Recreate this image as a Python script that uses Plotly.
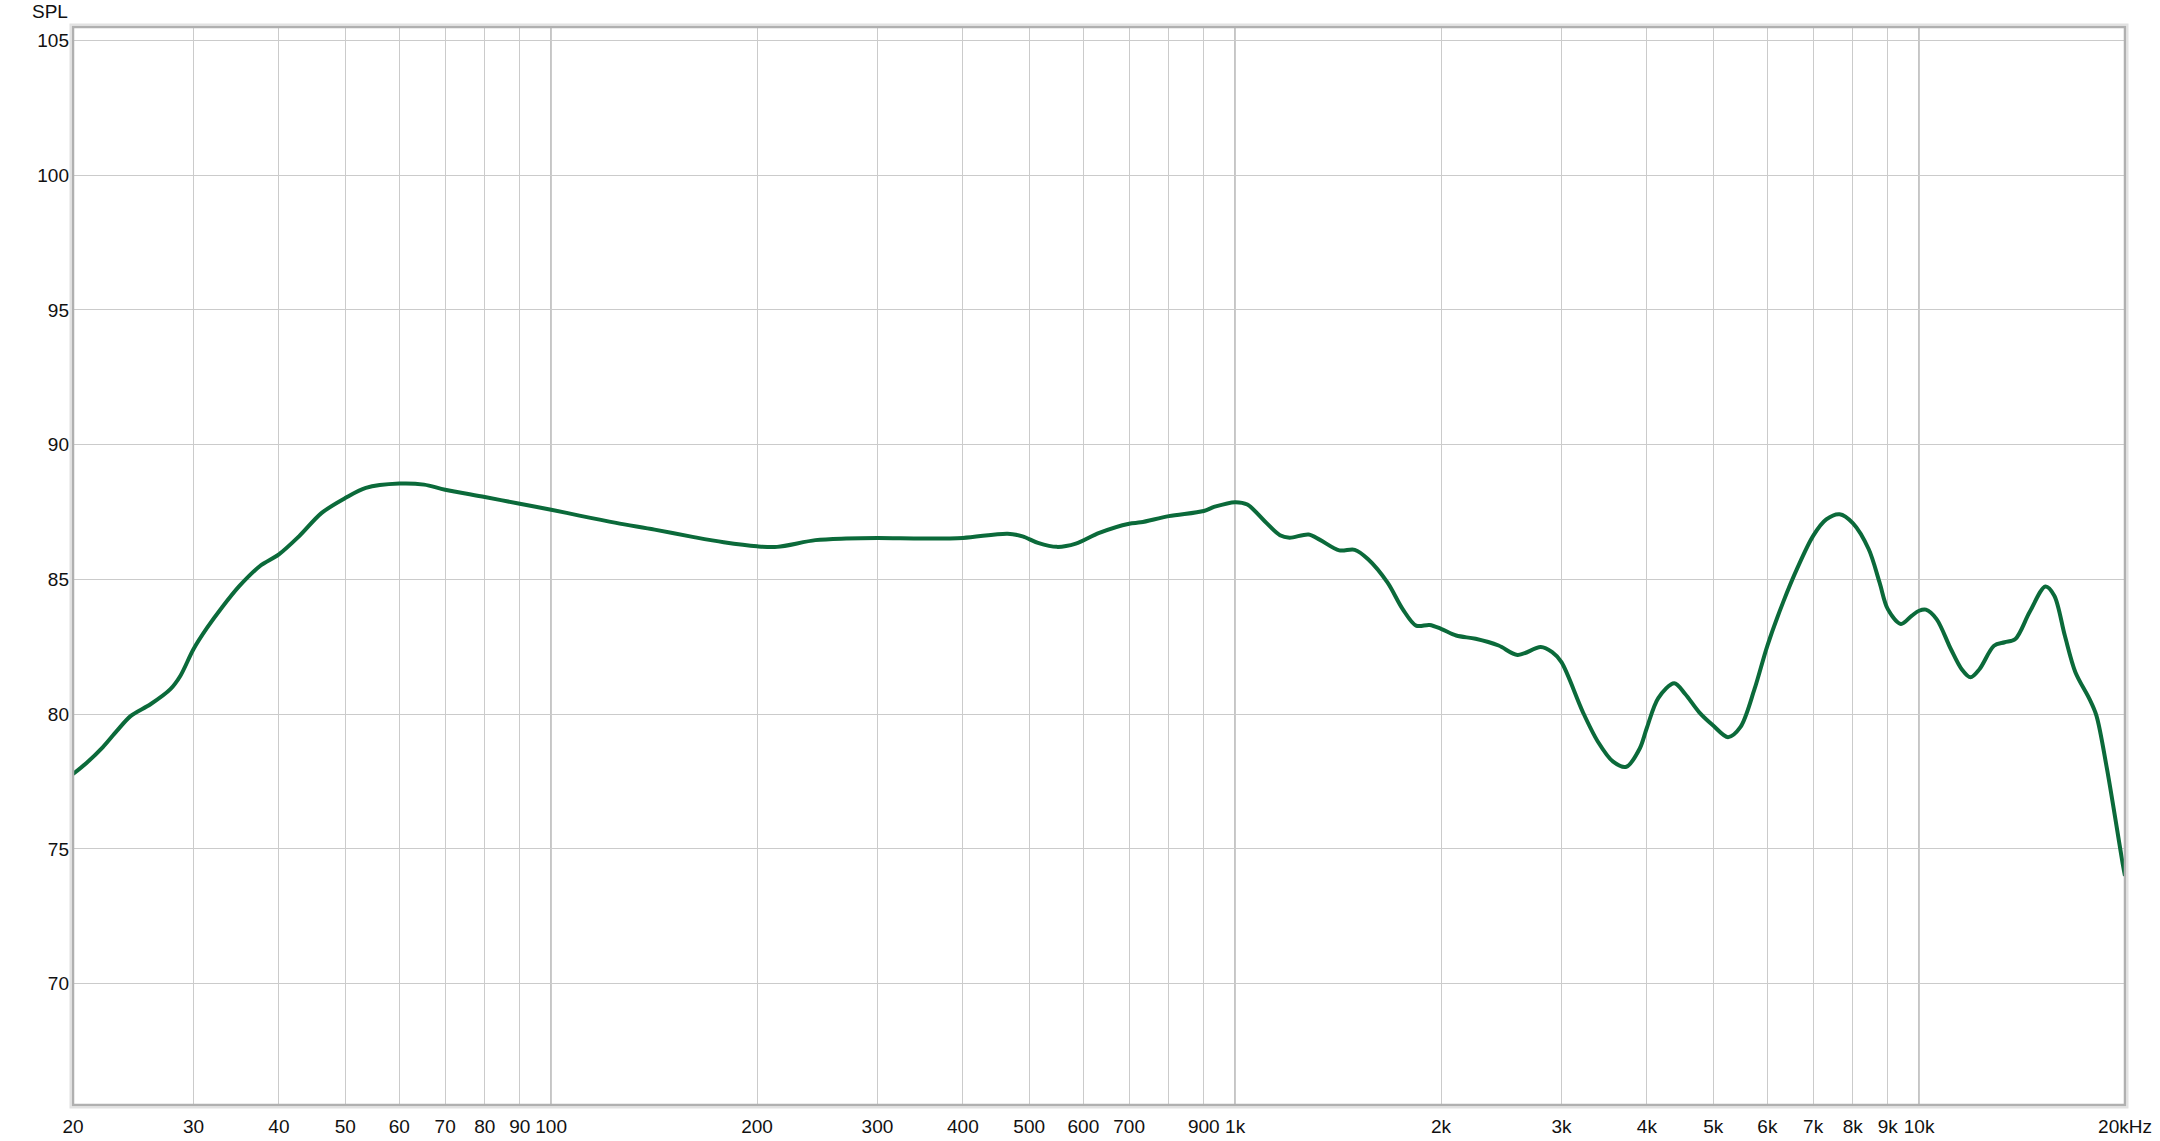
import plotly.graph_objects as go

# Frequency response data (Hz, dB SPL)
freq_hz = [20, 20.95, 22.1, 23.18, 24.3, 25.96, 27.76, 28.7, 30, 31.4, 33.0, 35.0, 37.5,
           40, 42.8, 46.2, 50, 53.6, 60, 65.2, 70, 80, 90, 100, 110, 124.5, 141.7, 161,
           178.8, 200, 214, 243.5, 270, 300, 350, 400, 465, 489, 515, 549, 585, 633, 700,
           728, 800, 900, 934, 1000, 1042, 1104, 1163, 1201, 1281, 1331, 1420, 1496, 1565,
           1670, 1758, 1839, 1925, 2000, 2105, 2247, 2428, 2588, 2798, 2908, 3000, 3223,
           3392, 3570, 3733, 3905, 4000, 4156, 4386, 4550, 4771, 5000, 5256, 5479, 5747,
           6000, 6326, 6642, 7000, 7316, 7653, 8000, 8441, 8753, 9000, 9406, 9751, 10000,
           10231, 10606, 11127, 11535, 11891, 12260, 12869, 13339, 13827, 14502, 15302,
           15765, 16335, 16924, 17741, 18166, 18820, 19863, 20000]
spl_db = [77.78, 78.2, 78.77, 79.38, 79.94, 80.37, 80.93, 81.42, 82.41, 83.2, 83.95, 84.75,
          85.49, 85.93, 86.6, 87.47, 88.02, 88.4, 88.56, 88.52, 88.33, 88.06, 87.81, 87.59,
          87.37, 87.1, 86.85, 86.58, 86.38, 86.23, 86.21, 86.46, 86.52, 86.54, 86.52, 86.54,
          86.7, 86.6, 86.36, 86.21, 86.33, 86.73, 87.07, 87.12, 87.35, 87.54, 87.7, 87.87,
          87.78, 87.17, 86.64, 86.55, 86.67, 86.47, 86.08, 86.10, 85.75, 84.89, 83.9, 83.29,
          83.31, 83.17, 82.92, 82.8, 82.55, 82.2, 82.49, 82.3, 81.93, 80.09, 78.98, 78.24,
          78.05, 78.73, 79.5, 80.6, 81.15, 80.75, 80.07, 79.58, 79.15, 79.52, 80.94, 82.54,
          84.15, 85.44, 86.62, 87.23, 87.42, 87.09, 86.12, 84.89, 83.9, 83.35, 83.65, 83.84,
          83.88, 83.53, 82.42, 81.68, 81.37, 81.68, 82.54, 82.67, 82.79, 83.78, 84.74,
          84.4, 82.91, 81.56, 80.57, 79.95, 77.98, 74.4, 74.0]

x_tick_vals = [20, 30, 40, 50, 60, 70, 80, 90, 100, 200, 300, 400, 500, 600, 700, 800, 900,
               1000, 2000, 3000, 4000, 5000, 6000, 7000, 8000, 9000, 10000, 20000]
x_tick_text = ["20", "30", "40", "50", "60", "70", "80", "90", "100", "200", "300", "400",
               "500", "600", "700", "", "900", "1k", "2k", "3k", "4k", "5k", "6k", "7k",
               "8k", "9k", "10k", "20kHz"]
decade_lines = [100, 1000, 10000]
y_tick_vals = [70, 75, 80, 85, 90, 95, 100, 105]
y_axis_title = "SPL"

W, H = 2160, 1141
ML, MR, MT, MB = 73, 35, 27, 36
PW, PH = W - ML - MR, H - MT - MB

font_family = "Liberation Sans, Arial, sans-serif"

fig = go.Figure()
fig.add_trace(go.Scatter(
    x=freq_hz, y=spl_db, mode="lines",
    line=dict(color="#0b6a3a", width=4, shape="spline", smoothing=0.9),
    hoverinfo="x+y", showlegend=False,
))

shapes = []
for f in decade_lines:
    shapes.append(dict(type="line", xref="x", yref="paper", x0=f, x1=f, y0=0, y1=1,
                       line=dict(color="#8c8c8c", width=1.2), layer="below"))

# frame with soft shadow
px = 1.0 / PW
py = 1.0 / PH
shapes.append(dict(type="rect", xref="paper", yref="paper",
                   x0=-2.5 * px, x1=1 + 2.5 * px, y0=-2.5 * py, y1=1 + 2.5 * py,
                   line=dict(color="#e2e2e2", width=2), layer="above"))
shapes.append(dict(type="rect", xref="paper", yref="paper", x0=0, x1=1, y0=0, y1=1,
                   line=dict(color="#b0b0b0", width=2.5), layer="above"))

fig.update_layout(
    template="none",
    width=W, height=H,
    margin=dict(l=ML, r=MR, t=MT, b=MB, pad=0, autoexpand=False),
    paper_bgcolor="white", plot_bgcolor="white",
    font=dict(family=font_family, size=19, color="#111111"),
    shapes=shapes,
    xaxis=dict(
        type="log", range=[1.30103, 4.30103], automargin=False,
        tickmode="array", tickvals=x_tick_vals, ticktext=x_tick_text,
        showgrid=True, gridcolor="#cbcbcb", gridwidth=1,
        ticks="", ticklabelstandoff=8, zeroline=False, showline=False,
        tickfont=dict(size=19, family=font_family, color="#111111"),
    ),
    yaxis=dict(
        range=[65.5, 105.5], tickmode="array", tickvals=y_tick_vals, automargin=False,
        showgrid=True, gridcolor="#cbcbcb", gridwidth=1,
        ticks="", ticklabelstandoff=3, zeroline=False, showline=False,
        tickfont=dict(size=19, family=font_family, color="#111111"),
    ),
    annotations=[dict(
        text=y_axis_title, xref="paper", yref="paper", x=0, y=1,
        xanchor="right", yanchor="bottom", xshift=-3, yshift=3,
        showarrow=False, font=dict(size=19, family=font_family, color="#111111"),
    )],
)

fig.write_html(
    "out.html",
    config={"displayModeBar": False},
    post_script="document.body.style.margin='0';document.body.style.overflow='hidden';",
)
